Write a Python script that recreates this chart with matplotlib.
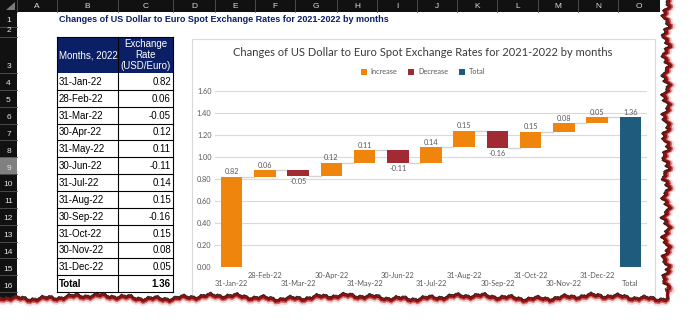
import numpy as np
import matplotlib.pyplot as plt
from matplotlib.patches import Rectangle, Patch, Polygon

# ---- data ----
months = ['31-Jan-22', '28-Feb-22', '31-Mar-22', '30-Apr-22', '31-May-22', '30-Jun-22',
          '31-Jul-22', '31-Aug-22', '30-Sep-22', '31-Oct-22', '30-Nov-22', '31-Dec-22']
changes = [0.82, 0.06, -0.05, 0.12, 0.11, -0.11, 0.14, 0.15, -0.16, 0.15, 0.08, 0.05]
total = 1.36
col_letters = list('ABCDEFGHIJKLMNO')
row_numbers = list(range(1, 17))
title = 'Changes of US Dollar to Euro Spot Exchange Rates for 2021-2022 by months'

C_INC = '#F0850D'
C_DEC = '#A12A33'
C_TOT = '#1F5B7D'
NAVY = '#0B1F66'
GREY = '#595959'
SHEET_FONT = ['Liberation Sans Narrow', 'Liberation Sans', 'DejaVu Sans']
CHART_FONT = ['Lato', 'DejaVu Sans']
FS = 5.3  # chart small text

W, H = 690, 323
fig = plt.figure(figsize=(W / 100, H / 100), dpi=100)
sheet = fig.add_axes([0, 0, 1, 1])
sheet.set_xlim(0, W)
sheet.set_ylim(H, 0)
sheet.axis('off')

# sheet geometry (pixels)
col_edges = [17, 57, 118, 173, 215, 255, 295, 337, 377, 417, 457, 497, 538, 578, 618, 660]
row_edges = [12, 27, 37, 73] + [73 + k * 16.85 for k in range(1, 14)]

# column header bar
sheet.add_patch(Rectangle((0, 0), 660, 12, facecolor='#111111', edgecolor='none'))
sheet.add_patch(Polygon([[6, 10], [15, 10], [15, 2]], closed=True, facecolor='#7a7a7a', edgecolor='none'))
for i, letter in enumerate(col_letters):
    x0, x1 = col_edges[i], col_edges[i + 1]
    sheet.text((x0 + x1) / 2, 6.5, letter, ha='center', va='center', color='#dddddd',
               fontsize=6, family=SHEET_FONT)
    sheet.plot([x0, x0], [0, 12], color='#555555', lw=0.6)
# row header bar
sheet.add_patch(Rectangle((0, 12), 17, 300, facecolor='#111111', edgecolor='none'))
for i, r in enumerate(row_numbers):
    y0, y1 = row_edges[i], row_edges[i + 1]
    if r == 9:
        sheet.add_patch(Rectangle((0, y0), 17, y1 - y0, facecolor='#808080', edgecolor='none'))
    sheet.text(8.5, y1 - 2.5, str(r), ha='center', va='bottom', color='#e6e6e6',
               fontsize=6, family=SHEET_FONT)
    sheet.plot([0, 17], [y1, y1], color='#555555', lw=0.6)

# sheet title
sheet.text(59, 19.5, title, ha='left', va='center', color=NAVY, fontsize=6.5,
           fontweight='bold', family=SHEET_FONT)

# table
bx0, bx1, bx2 = 57, 118, 173
sheet.add_patch(Rectangle((bx0, 37), bx2 - bx0, 36, facecolor=NAVY, edgecolor='none'))
sheet.text(bx0 + 2, 55, 'Months, 2022', ha='left', va='center', color='white',
           fontsize=7, family=SHEET_FONT)
sheet.text((bx1 + bx2) / 2, 55, 'Exchange\nRate\n(USD/Euro)', ha='center', va='center',
           color='white', fontsize=7, family=SHEET_FONT, linespacing=1.15)
table_rows = [(m, f'{v:.2f}') for m, v in zip(months, changes)] + [('Total', f'{total:.2f}')]
for k, (lab, val) in enumerate(table_rows):
    y0, y1 = row_edges[3 + k], row_edges[4 + k]
    bold = 'bold' if lab == 'Total' else 'normal'
    sheet.text(bx0 + 2, (y0 + y1) / 2 + 0.5, lab, ha='left', va='center', color='black',
               fontsize=7, family=SHEET_FONT, fontweight=bold)
    sheet.text(bx2 - 2, (y0 + y1) / 2 + 0.5, val, ha='right', va='center', color='black',
               fontsize=7, family=SHEET_FONT, fontweight=bold)
    sheet.plot([bx0, bx2], [y1, y1], color='black', lw=0.8)
for xv in (bx0, bx1, bx2):
    sheet.plot([xv, xv], [37, row_edges[-1]], color='black', lw=0.8)
sheet.plot([bx0, bx2], [37, 37], color='black', lw=0.8)

# chart box
sheet.add_patch(Rectangle((192, 39), 463, 280, facecolor='white', edgecolor='#d9d9d9', lw=0.8))
sheet.text(423, 52, title, ha='center', va='center', color='#3a3a3a', fontsize=8,
           family=CHART_FONT)

# ---- waterfall chart ----
ax = fig.add_axes([215 / W, 1 - 267 / H, 432 / W, 176 / H])
ax.set_zorder(2)
ax.patch.set_alpha(0)
cum = np.cumsum(changes)
x = np.arange(len(months) + 1)
heights = [abs(v) for v in changes] + [total]
bottoms = [c - v if v >= 0 else c for c, v in zip(cum, changes)] + [0]
colors = [C_INC if v >= 0 else C_DEC for v in changes] + [C_TOT]
bw = 0.65
ax.bar(x, heights, bottom=bottoms, width=bw, color=colors, zorder=3)
levels = list(cum) + [total]
for i in range(len(levels) - 1):
    ax.plot([i + bw / 2, i + 1 - bw / 2], [levels[i], levels[i]], color='#d4d4d4', lw=1, zorder=2)
for i, v in enumerate(list(changes) + [total]):
    if v >= 0:
        ax.annotate(f'{v:.2f}', (i, levels[i]), xytext=(0, 1), textcoords='offset points',
                    ha='center', va='bottom', fontsize=FS, color=GREY, family=CHART_FONT)
    else:
        ax.annotate(f'{v:.2f}', (i, levels[i]), xytext=(0, -1.5), textcoords='offset points',
                    ha='center', va='top', fontsize=FS, color=GREY, family=CHART_FONT)
ax.set_xlim(-0.5, len(x) - 0.5)
ax.set_ylim(0, 1.6)
ax.set_yticks(np.arange(0, 1.61, 0.2))
ax.set_yticklabels([f'{t:.2f}' for t in np.arange(0, 1.61, 0.2)])
xlabels = months + ['Total']
ax.set_xticks(x)
ax.set_xticklabels([('\n' + l) if i % 2 == 0 else l for i, l in enumerate(xlabels)])
ax.tick_params(length=0, labelsize=FS, labelcolor=GREY)
ax.tick_params(axis='x', pad=3.5)
ax.tick_params(axis='y', pad=2.5)
for t in ax.get_xticklabels() + ax.get_yticklabels():
    t.set_family(CHART_FONT)
ax.grid(axis='y', color='#d9d9d9', lw=0.8, zorder=0)
for s in ax.spines.values():
    s.set_visible(False)

handles = [Patch(facecolor=C_INC), Patch(facecolor=C_DEC), Patch(facecolor=C_TOT)]
fig.legend(handles, ['Increase', 'Decrease', 'Total'], loc='center',
           bbox_to_anchor=(423 / W, 1 - 72 / H), ncol=3, frameon=False,
           prop={'size': FS, 'family': CHART_FONT}, labelcolor=GREY,
           handlelength=0.8, handleheight=0.8, handletextpad=0.5, columnspacing=1.5)

# ---- torn paper edge ----
top = fig.add_axes([0, 0, 1, 1])
top.set_zorder(10)
top.set_xlim(0, W)
top.set_ylim(H, 0)
top.axis('off')
top.patch.set_alpha(0)
ys = np.linspace(0, 292, 300)
xr = 665 + 2.5 * np.sin(ys * 0.31) + 1.5 * np.sin(ys * 0.97 + 1) + 0.8 * np.sin(ys * 2.3) + 0.4 * np.sin(ys * 5.1)
xs = np.linspace(668, 0, 600)
yb = 296 + 1.6 * np.sin(xs * 0.05) + 1.3 * np.sin(xs * 0.23 + 0.5) + 0.9 * np.sin(xs * 0.71) + 0.5 * np.sin(xs * 1.9)
edge = np.vstack([np.column_stack([xr, ys]), np.column_stack([xs, yb])])
outside = np.vstack([[[xr[0], 0], [W, 0], [W, H], [0, H]], edge[::-1]])
top.add_patch(Polygon(outside, closed=True, facecolor='white', edgecolor='none'))
for off, col, lw, a in [(4.5, '#eec0c0', 3.0, 0.6), (3.0, '#c33a3a', 2.4, 0.7), (1.6, '#8b0a0a', 2.2, 0.95)]:
    top.plot(edge[:, 0] + off * (edge[:, 0] > 600) * (edge[:, 1] < 290),
             edge[:, 1] + off * (edge[:, 1] >= 285), color=col, lw=lw, alpha=a,
             solid_capstyle='butt')
top.plot(edge[:, 0], edge[:, 1], color='#222222', lw=0.6)

fig.savefig('out.png', dpi=100)
